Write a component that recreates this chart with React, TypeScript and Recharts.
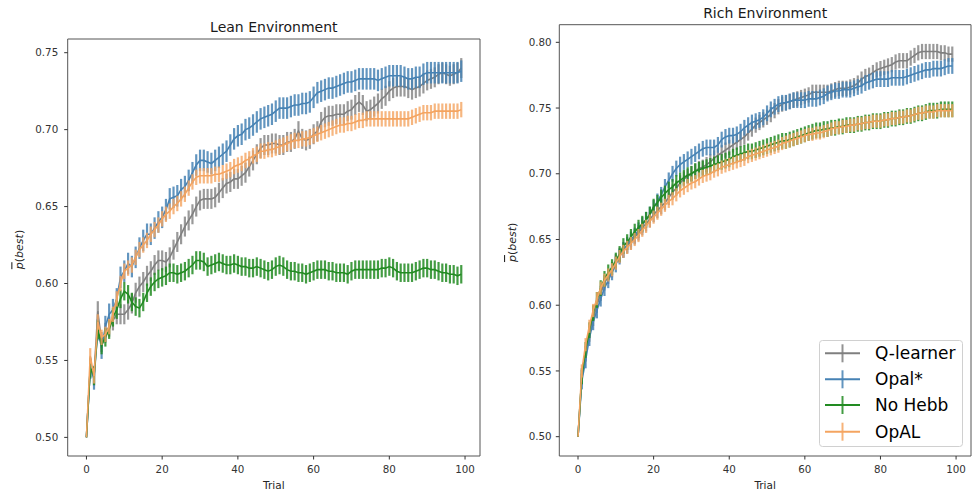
import React from 'react';
import { LineChart, Line, XAxis, YAxis, ErrorBar, ReferenceArea, Legend } from 'recharts';

const FONT = '"DejaVu Sans", Verdana, sans-serif';

const SERIES_NAMES = ['Q-learner', 'Opal*', 'No Hebb', 'OpAL'];
const LINE_COLORS = ['#7f7f7f', '#4682b4', '#228b22', '#f4a460'];
const BAR_COLORS = ['rgba(127,127,127,0.8)', 'rgba(70,130,180,0.85)', 'rgba(34,139,34,0.85)', 'rgba(244,164,96,0.8)'];

const X_TICKS = [0, 20, 40, 60, 80, 100];
const LEAN_Y_TICKS = [0.5, 0.55, 0.6, 0.65, 0.7, 0.75];
const RICH_Y_TICKS = [0.5, 0.55, 0.6, 0.65, 0.7, 0.75, 0.8];

// ---------- Lean environment ----------
const leanQLearner = [
  0.500, 0.545, 0.540, 0.582, 0.562, 0.568, 0.572, 0.576, 0.580, 0.580,
  0.580, 0.583, 0.587, 0.594, 0.598, 0.601, 0.605, 0.608, 0.612, 0.615,
  0.615, 0.614, 0.617, 0.622, 0.627, 0.632, 0.637, 0.641, 0.645, 0.650,
  0.654, 0.655, 0.655, 0.655, 0.656, 0.659, 0.662, 0.665, 0.666, 0.668,
  0.668, 0.670, 0.672, 0.676, 0.680, 0.684, 0.688, 0.690, 0.690, 0.691,
  0.691, 0.690, 0.690, 0.692, 0.692, 0.694, 0.699, 0.694, 0.693, 0.694,
  0.697, 0.699, 0.705, 0.708, 0.709, 0.709, 0.710, 0.710, 0.710, 0.712,
  0.713, 0.716, 0.718, 0.716, 0.712, 0.713, 0.715, 0.717, 0.720, 0.722,
  0.725, 0.727, 0.728, 0.728, 0.728, 0.727, 0.726, 0.727, 0.728, 0.730,
  0.732, 0.733, 0.734, 0.736, 0.737, 0.736, 0.735, 0.736, 0.737, 0.740,
];
const leanOpalStar = [
  0.500, 0.545, 0.538, 0.570, 0.558, 0.572, 0.580, 0.583, 0.590, 0.604,
  0.608, 0.613, 0.611, 0.617, 0.623, 0.628, 0.632, 0.632, 0.636, 0.640,
  0.643, 0.648, 0.655, 0.656, 0.657, 0.661, 0.663, 0.667, 0.672, 0.677,
  0.680, 0.680, 0.679, 0.678, 0.680, 0.682, 0.684, 0.686, 0.690, 0.694,
  0.696, 0.697, 0.700, 0.701, 0.703, 0.705, 0.707, 0.708, 0.709, 0.710,
  0.712, 0.714, 0.714, 0.714, 0.715, 0.716, 0.716, 0.717, 0.717, 0.718,
  0.721, 0.724, 0.725, 0.726, 0.727, 0.727, 0.728, 0.729, 0.730, 0.731,
  0.731, 0.732, 0.733, 0.733, 0.733, 0.733, 0.733, 0.732, 0.733, 0.734,
  0.735, 0.735, 0.735, 0.735, 0.734, 0.733, 0.733, 0.734, 0.734, 0.736,
  0.737, 0.737, 0.737, 0.737, 0.737, 0.737, 0.737, 0.737, 0.737, 0.738,
];
const leanNoHebb = [
  0.500, 0.545, 0.540, 0.570, 0.560, 0.565, 0.570, 0.578, 0.583, 0.590,
  0.595, 0.593, 0.588, 0.585, 0.584, 0.588, 0.594, 0.598, 0.601, 0.603,
  0.604, 0.605, 0.607, 0.607, 0.606, 0.607, 0.608, 0.610, 0.612, 0.615,
  0.615, 0.614, 0.611, 0.612, 0.613, 0.614, 0.613, 0.612, 0.612, 0.613,
  0.612, 0.611, 0.611, 0.610, 0.610, 0.611, 0.610, 0.609, 0.608, 0.609,
  0.611, 0.612, 0.611, 0.609, 0.608, 0.608, 0.607, 0.607, 0.606, 0.607,
  0.608, 0.609, 0.609, 0.609, 0.608, 0.608, 0.607, 0.607, 0.607, 0.606,
  0.608, 0.609, 0.609, 0.609, 0.609, 0.609, 0.609, 0.609, 0.610, 0.610,
  0.611, 0.610, 0.608, 0.607, 0.607, 0.607, 0.607, 0.608, 0.609, 0.610,
  0.610, 0.609, 0.609, 0.608, 0.607, 0.607, 0.606, 0.606, 0.605, 0.606,
];
const leanOpAL = [
  0.500, 0.553, 0.540, 0.575, 0.565, 0.567, 0.572, 0.580, 0.590, 0.600,
  0.608, 0.610, 0.612, 0.617, 0.622, 0.625, 0.628, 0.632, 0.635, 0.638,
  0.642, 0.645, 0.647, 0.650, 0.652, 0.655, 0.658, 0.662, 0.666, 0.669,
  0.670, 0.670, 0.670, 0.670, 0.671, 0.671, 0.672, 0.673, 0.674, 0.676,
  0.677, 0.678, 0.680, 0.681, 0.683, 0.684, 0.686, 0.686, 0.687, 0.687,
  0.688, 0.689, 0.690, 0.691, 0.692, 0.693, 0.693, 0.694, 0.694, 0.695,
  0.696, 0.697, 0.698, 0.699, 0.700, 0.701, 0.702, 0.703, 0.703, 0.704,
  0.704, 0.705, 0.706, 0.706, 0.707, 0.707, 0.707, 0.707, 0.707, 0.707,
  0.707, 0.707, 0.707, 0.707, 0.707, 0.707, 0.708, 0.709, 0.710, 0.711,
  0.711, 0.711, 0.712, 0.712, 0.712, 0.712, 0.712, 0.712, 0.712, 0.713,
];
const leanErrors = [0.0065, 0.007, 0.006, 0.005];

// ---------- Rich environment ----------
const richQLearner = [
  0.500, 0.545, 0.563, 0.578, 0.590, 0.600, 0.609, 0.617, 0.622, 0.627,
  0.633, 0.638, 0.642, 0.645, 0.648, 0.652, 0.655, 0.659, 0.662, 0.665,
  0.669, 0.672, 0.675, 0.678, 0.682, 0.686, 0.689, 0.693, 0.696, 0.698,
  0.700, 0.702, 0.704, 0.705, 0.707, 0.709, 0.712, 0.714, 0.716, 0.718,
  0.720, 0.722, 0.724, 0.726, 0.728, 0.731, 0.734, 0.737, 0.739, 0.741,
  0.743, 0.745, 0.748, 0.751, 0.753, 0.754, 0.755, 0.756, 0.757, 0.758,
  0.759, 0.760, 0.762, 0.762, 0.762, 0.762, 0.762, 0.763, 0.764, 0.765,
  0.765, 0.765, 0.766, 0.767, 0.769, 0.772, 0.774, 0.775, 0.777, 0.779,
  0.780, 0.781, 0.782, 0.783, 0.785, 0.786, 0.786, 0.786, 0.788, 0.790,
  0.792, 0.793, 0.793, 0.793, 0.793, 0.793, 0.792, 0.792, 0.791, 0.791,
];
const richOpalStar = [
  0.500, 0.542, 0.558, 0.575, 0.587, 0.596, 0.605, 0.613, 0.619, 0.625,
  0.631, 0.637, 0.642, 0.646, 0.650, 0.653, 0.657, 0.661, 0.665, 0.669,
  0.674, 0.679, 0.684, 0.690, 0.695, 0.700, 0.704, 0.707, 0.709, 0.711,
  0.713, 0.715, 0.717, 0.719, 0.720, 0.720, 0.720, 0.722, 0.726, 0.728,
  0.729, 0.729, 0.730, 0.732, 0.735, 0.737, 0.739, 0.740, 0.741, 0.743,
  0.746, 0.749, 0.751, 0.753, 0.754, 0.754, 0.755, 0.756, 0.756, 0.756,
  0.756, 0.757, 0.757, 0.757, 0.758, 0.759, 0.761, 0.762, 0.763, 0.763,
  0.764, 0.764, 0.764, 0.765, 0.766, 0.767, 0.769, 0.770, 0.771, 0.772,
  0.772, 0.772, 0.772, 0.773, 0.773, 0.773, 0.773, 0.774, 0.775, 0.776,
  0.777, 0.778, 0.779, 0.779, 0.780, 0.780, 0.780, 0.781, 0.782, 0.782,
];
const richNoHebb = [
  0.500, 0.546, 0.566, 0.581, 0.594, 0.604, 0.613, 0.620, 0.625, 0.629,
  0.634, 0.639, 0.645, 0.648, 0.652, 0.656, 0.659, 0.662, 0.665, 0.669,
  0.675, 0.678, 0.682, 0.685, 0.688, 0.690, 0.693, 0.695, 0.697, 0.699,
  0.700, 0.702, 0.703, 0.704, 0.705, 0.706, 0.707, 0.708, 0.709, 0.710,
  0.711, 0.713, 0.714, 0.715, 0.716, 0.717, 0.717, 0.718, 0.719, 0.720,
  0.721, 0.722, 0.723, 0.724, 0.725, 0.725, 0.726, 0.727, 0.728, 0.729,
  0.730, 0.731, 0.732, 0.733, 0.733, 0.734, 0.734, 0.735, 0.735, 0.736,
  0.736, 0.737, 0.737, 0.737, 0.738, 0.738, 0.739, 0.739, 0.740, 0.740,
  0.740, 0.741, 0.741, 0.742, 0.742, 0.743, 0.743, 0.744, 0.744, 0.745,
  0.746, 0.746, 0.747, 0.748, 0.748, 0.748, 0.749, 0.749, 0.749, 0.749,
];
const richOpAL = [
  0.500, 0.550, 0.570, 0.584, 0.596, 0.605, 0.613, 0.619, 0.623, 0.627,
  0.632, 0.637, 0.641, 0.644, 0.647, 0.650, 0.653, 0.657, 0.660, 0.664,
  0.667, 0.670, 0.673, 0.676, 0.679, 0.681, 0.684, 0.687, 0.689, 0.691,
  0.693, 0.694, 0.696, 0.698, 0.699, 0.700, 0.702, 0.703, 0.705, 0.706,
  0.707, 0.708, 0.709, 0.710, 0.711, 0.713, 0.714, 0.715, 0.716, 0.717,
  0.718, 0.719, 0.720, 0.721, 0.723, 0.724, 0.725, 0.726, 0.727, 0.728,
  0.729, 0.730, 0.730, 0.731, 0.731, 0.732, 0.733, 0.734, 0.735, 0.735,
  0.736, 0.736, 0.737, 0.737, 0.738, 0.738, 0.739, 0.739, 0.740, 0.740,
  0.740, 0.741, 0.741, 0.742, 0.742, 0.743, 0.743, 0.744, 0.744, 0.745,
  0.746, 0.746, 0.747, 0.747, 0.747, 0.748, 0.748, 0.748, 0.748, 0.748,
];
const richErrors = [0.0058, 0.006, 0.006, 0.005];

function buildRows(series: number[][], errs: number[]) {
  return series[0].map((_, t) => {
    const row: any = { t };
    series.forEach((s, i) => {
      row['s' + i] = s[t];
      // every run starts at chance level, so the first trial has no spread
      row['e' + i] = t === 0 ? 0 : errs[i];
    });
    return row;
  });
}

const leanData = buildRows([leanQLearner, leanOpalStar, leanNoHebb, leanOpAL], leanErrors);
const richData = buildRows([richQLearner, richOpalStar, richNoHebb, richOpAL], richErrors);

const YLabel = (props: any) => {
  const { viewBox, shift } = props;
  const cx = viewBox.x + shift;
  const cy = viewBox.y + viewBox.height / 2 + 2;
  return (
    <text
      x={cx}
      y={cy}
      transform={`rotate(-90 ${cx} ${cy})`}
      textAnchor="middle"
      dominantBaseline="central"
      fontFamily={FONT}
      fontSize={11}
      fill="#262626"
    >
      <tspan fontStyle="italic" style={{ textDecoration: 'overline' }}>p</tspan>
      <tspan>(</tspan>
      <tspan fontStyle="italic">best</tspan>
      <tspan>)</tspan>
    </text>
  );
};

const LegendBox = (props: any) => {
  const raw = props.payload || [];
  const ordered = SERIES_NAMES.map((n) => raw.find((p: any) => p.value === n)).filter(Boolean);
  const rowY = [13.3, 39.3, 65, 91.7];
  return (
    <svg width={145} height={108} style={{ display: 'block' }}>
      <rect x={0.5} y={0.5} width={143} height={106} rx={3} ry={3} fill="rgba(255,255,255,0.8)" stroke="#d0d0d0" strokeWidth={1} />
      {ordered.map((p: any, i: number) => (
        <g key={p.value}>
          <line x1={6} x2={41} y1={rowY[i]} y2={rowY[i]} stroke={p.color} strokeWidth={2} />
          <line x1={23.5} x2={23.5} y1={rowY[i] - 9} y2={rowY[i] + 9} stroke={p.color} strokeWidth={2} strokeOpacity={0.85} />
          <text x={56} y={rowY[i]} dominantBaseline="central" fontFamily={FONT} fontSize={17} fill="#000">
            {p.value}
          </text>
        </g>
      ))}
    </svg>
  );
};

function Panel(props: {
  data: any[];
  title: string;
  titleOffset: number;
  yDomain: [number, number];
  yTicks: number[];
  width: number;
  margin: any;
  yTickMargin: number;
  labelShift: number;
  withLegend: boolean;
}) {
  const { data, title, titleOffset, yDomain, yTicks, width, margin, yTickMargin, labelShift, withLegend } = props;
  const xDomain: [number, number] = [-4.95, 103.95];
  return (
    <LineChart width={width} height={493} data={data} margin={margin}>
      <XAxis
        type="number"
        dataKey="t"
        domain={xDomain}
        allowDataOverflow
        ticks={X_TICKS}
        tickSize={3.5}
        tickMargin={6.5}
        axisLine={false}
        tickLine={{ stroke: '#333' }}
        tick={{ fill: '#333', fontSize: 10.3, fontFamily: FONT }}
        height={34}
        label={{ value: 'Trial', position: 'insideBottom', offset: 1, fill: '#262626', fontSize: 10.5, fontFamily: FONT }}
      />
      <YAxis
        type="number"
        domain={yDomain}
        allowDataOverflow
        ticks={yTicks}
        tickFormatter={(v: number) => v.toFixed(2)}
        width={50}
        tickSize={3.5}
        tickMargin={yTickMargin}
        axisLine={false}
        tickLine={{ stroke: '#333' }}
        tick={{ fill: '#333', fontSize: 10.3, fontFamily: FONT }}
        label={<YLabel shift={labelShift} />}
      />
      <ReferenceArea
        x1={xDomain[0]}
        x2={xDomain[1]}
        y1={yDomain[0]}
        y2={yDomain[1]}
        fill="none"
        stroke="#555"
        strokeWidth={1}
        label={{ value: title, position: 'top', offset: titleOffset, fill: '#1a1a1a', fontSize: 14, fontFamily: FONT }}
      />
      {SERIES_NAMES.map((name, i) => (
        <Line
          key={name}
          name={name}
          dataKey={'s' + i}
          stroke={LINE_COLORS[i]}
          strokeWidth={1.6}
          dot={false}
          activeDot={false}
          isAnimationActive={false}
        >
          <ErrorBar dataKey={'e' + i} width={0} stroke={BAR_COLORS[i]} strokeWidth={2.2} direction="y" isAnimationActive={false} />
        </Line>
      ))}
      {withLegend && (
        <Legend
          layout="vertical"
          align="center"
          verticalAlign="middle"
          content={<LegendBox />}
          wrapperStyle={{ position: 'absolute', left: 329, top: 340, width: 145, height: 108 }}
        />
      )}
    </LineChart>
  );
}

export default function App() {
  return (
    <div style={{ position: 'absolute', left: 0, top: 0, width: 972, height: 493, background: '#fff', overflow: 'hidden' }}>
      <div style={{ position: 'absolute', left: 0, top: 0 }}>
        <Panel
          data={leanData}
          title="Lean Environment"
          titleOffset={7.3}
          yDomain={[0.4879, 0.7589]}
          yTicks={LEAN_Y_TICKS}
          width={490}
          margin={{ top: 39, right: 10, bottom: 3, left: 17.7 }}
          yTickMargin={6}
          labelShift={1.6}
          withLegend={false}
        />
      </div>
      <div style={{ position: 'absolute', left: 490, top: 0 }}>
        <Panel
          data={richData}
          title="Rich Environment"
          titleOffset={6.4}
          yDomain={[0.4853, 0.8134]}
          yTicks={RICH_Y_TICKS}
          width={482}
          margin={{ top: 24.7, right: 1, bottom: 3, left: 19.3 }}
          yTickMargin={4.2}
          labelShift={2.7}
          withLegend={true}
        />
      </div>
    </div>
  );
}
